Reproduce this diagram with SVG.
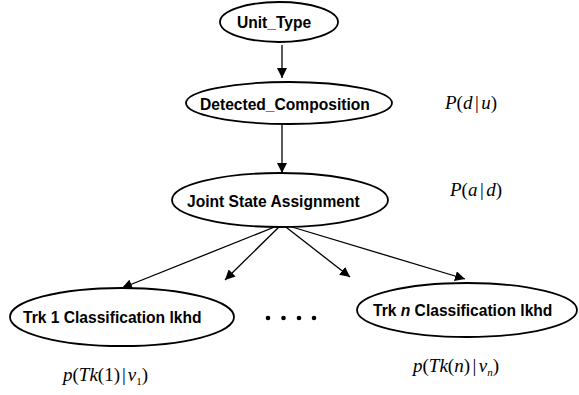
<svg xmlns="http://www.w3.org/2000/svg" width="579" height="395" viewBox="0 0 579 395">
<style>
.node ellipse{fill:#fff;stroke:#000;stroke-width:1.8}
.lbl{font-family:"Liberation Sans",Arial,sans-serif;font-weight:bold;font-size:15.6px;fill:#000}
.math{font-family:"Liberation Serif","Times New Roman",serif;font-size:19px;fill:#000}
.i{font-style:italic}
.edge{stroke:#000;stroke-width:1.3;fill:none;marker-end:url(#ah)}
</style>
<defs>
<marker id="ah" viewBox="0 0 10 10" refX="10" refY="5" markerWidth="10" markerHeight="10" markerUnits="userSpaceOnUse" orient="auto">
<path d="M0,0 L10,5 L0,10 z" fill="#000"/>
</marker>
</defs>
<rect width="579" height="395" fill="#fff"/>
<g id="connectors">
<line class="edge" x1="282" y1="45" x2="282" y2="78"/>
<line class="edge" x1="282" y1="125" x2="282" y2="173"/>
<line class="edge" x1="282" y1="224" x2="122" y2="288"/>
<line class="edge" x1="282" y1="224" x2="225" y2="280"/>
<line class="edge" x1="282" y1="224" x2="350" y2="277"/>
<line class="edge" x1="282" y1="224" x2="465" y2="279"/>
</g>
<g id="unit_type" class="node">
<ellipse cx="279" cy="22" rx="59" ry="20"/>
<text class="lbl" x="237" y="28">Unit_Type</text>
</g>
<g id="detected_composition" class="node">
<ellipse cx="289" cy="103" rx="103" ry="21"/>
<text class="lbl" x="200" y="110">Detected_Composition</text>
</g>
<g id="joint_state_assignment" class="node">
<ellipse cx="280" cy="200" rx="108" ry="27"/>
<text class="lbl" x="187" y="207">Joint State Assignment</text>
</g>
<g id="trk1" class="node">
<ellipse cx="122" cy="317" rx="112" ry="29"/>
<text class="lbl" x="23" y="323">Trk 1 Classification lkhd</text>
</g>
<g id="trkn" class="node">
<ellipse cx="467" cy="310" rx="110" ry="27"/>
<text class="lbl" x="373" y="316">Trk <tspan font-style="italic">n</tspan> Classification lkhd</text>
</g>
<g id="dots" fill="#000">
<circle cx="268" cy="318" r="2.3"/>
<circle cx="283.5" cy="318" r="2.3"/>
<circle cx="299" cy="318" r="2.3"/>
<circle cx="314" cy="318" r="2.3"/>
</g>
<text class="math" x="445" y="109"><tspan class="i">P</tspan>(<tspan class="i">d</tspan><tspan dx="2.5">|</tspan><tspan class="i" dx="2.5">u</tspan>)</text>
<text class="math" x="450" y="196"><tspan class="i">P</tspan>(<tspan class="i">a</tspan><tspan dx="2.5">|</tspan><tspan class="i" dx="2.5">d</tspan>)</text>
<text class="math" x="63" y="381"><tspan class="i">p</tspan>(<tspan class="i">Tk</tspan>(1)<tspan dx="2">|</tspan><tspan class="i" dx="2">v</tspan><tspan font-size="11" dy="4">1</tspan><tspan dy="-4">)</tspan></text>
<text class="math" x="413" y="372"><tspan class="i">p</tspan>(<tspan class="i">Tk</tspan>(<tspan class="i">n</tspan>)<tspan dx="2.5">|</tspan><tspan class="i" dx="2.5">v</tspan><tspan class="i" font-size="11" dy="4">n</tspan><tspan dy="-4">)</tspan></text>
</svg>
